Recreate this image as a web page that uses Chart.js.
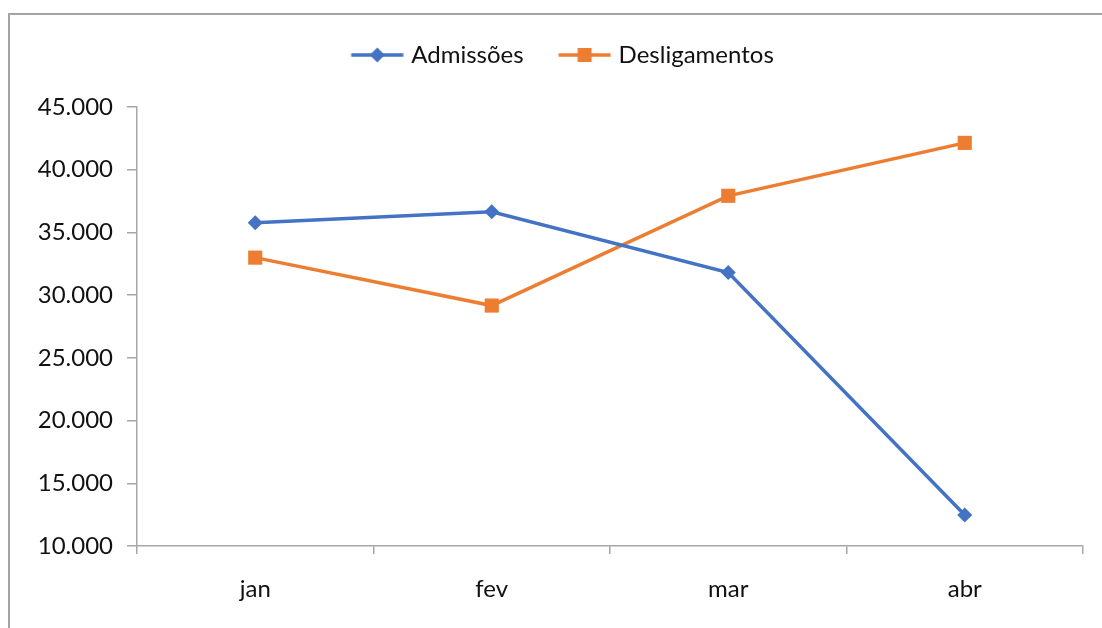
<!DOCTYPE html>
<html>
<head>
<meta charset="utf-8">
<script src="https://cdn.jsdelivr.net/npm/chart.js@4.4.0/dist/chart.umd.min.js"></script>
<style>
html, body { margin: 0; padding: 0; background: #fff; overflow: hidden; }
#frame { position: absolute; left: 8px; top: 13px; width: 1110px; height: 640px; border: 2px solid #a3a3a3; box-sizing: border-box; }
#wrap { position: absolute; left: 0; top: 0; width: 1102px; height: 628px; }
</style>
</head>
<body>
<div id="frame"></div>
<div id="wrap"><canvas id="chart" width="1102" height="628"></canvas></div>
<script>
// data
const months = ['jan', 'fev', 'mar', 'abr'];
const admissoes = [35780, 36650, 31800, 12470];
const desligamentos = [32990, 29170, 37920, 42140];
const y_min = 10000;
const y_max = 45000;
const y_step = 5000;

const blue = '#4472c4';
const orange = '#ed7d31';
const axis_grey = '#a6a6a6';
const text_color = '#111111';
const font = { family: 'Lato', size: 24 };

// pt-BR thousands: 45.000
function fmt(v) {
    return String(v).replace(/\B(?=(\d{3})+(?!\d))/g, '.');
}

// small legend image: line with the marker in the middle.
// the image is wider than the legend box so the line runs closer to the text
function legend_marker(color, shape) {
    const c = document.createElement('canvas');
    c.width = 57;
    c.height = 18;
    const ctx = c.getContext('2d');
    const x0 = 4.5;
    const mid = x0 + 26;
    ctx.strokeStyle = color;
    ctx.lineWidth = 3.5;
    ctx.beginPath();
    ctx.moveTo(x0, 9);
    ctx.lineTo(x0 + 52, 9);
    ctx.stroke();
    ctx.fillStyle = color;
    ctx.beginPath();
    if (shape === 'diamond') {
        ctx.moveTo(mid, 1.5);
        ctx.lineTo(mid + 7.5, 9);
        ctx.lineTo(mid, 16.5);
        ctx.lineTo(mid - 7.5, 9);
        ctx.closePath();
    } else {
        ctx.rect(mid - 7, 2, 14, 14);
    }
    ctx.fill();
    return c;
}
const markers = [legend_marker(blue, 'diamond'), legend_marker(orange, 'square')];

// legend: extra room under it, and nudged right like the original
const legend_tweak = {
    id: 'legend_tweak',
    afterInit(chart) {
        const lg = chart.legend;
        const orig_fit = lg.fit.bind(lg);
        lg.fit = function () {
            orig_fit();
            this.height += 30;
        };
    },
    afterLayout(chart) {
        chart.legend.left += 11;
        chart.legend.right += 11;
    }
};

const ctx = document.querySelector('#chart').getContext('2d');
const chartobj = new Chart(ctx, {
    type: 'line',
    plugins: [legend_tweak],
    data: {
        labels: months,
        datasets: [
            {
                label: 'Admissões',
                data: admissoes,
                borderColor: blue,
                backgroundColor: blue,
                borderWidth: 3.5,
                pointStyle: 'rectRot',
                pointRadius: 7.5,
                pointBorderWidth: 0,
                tension: 0
            },
            {
                label: 'Desligamentos',
                data: desligamentos,
                borderColor: orange,
                backgroundColor: orange,
                borderWidth: 3.5,
                pointStyle: 'rect',
                pointRadius: 10,
                pointBorderWidth: 0,
                tension: 0
            }
        ]
    },
    options: {
        responsive: false,
        animation: false,
        layout: { padding: { left: 20, right: 19, top: 8, bottom: 0 } },
        plugins: {
            legend: {
                position: 'top',
                labels: {
                    usePointStyle: true,
                    pointStyleWidth: 48,
                    padding: 35,
                    color: text_color,
                    font: font,
                    generateLabels: (chart) => {
                        const items = Chart.defaults.plugins.legend.labels.generateLabels(chart);
                        items.forEach((item, i) => { item.pointStyle = markers[i]; });
                        return items;
                    }
                }
            },
            tooltip: { enabled: false }
        },
        scales: {
            x: {
                offset: true,
                grid: {
                    display: true,
                    drawOnChartArea: false,
                    offset: true,
                    tickLength: 8,
                    color: axis_grey,
                    lineWidth: 1.5
                },
                border: { color: axis_grey, width: 1.5 },
                ticks: { padding: 21, color: text_color, font: font },
                afterFit: (s) => { s.height = 82; }
            },
            y: {
                min: y_min,
                max: y_max,
                grid: {
                    drawOnChartArea: false,
                    tickLength: 10,
                    color: axis_grey,
                    lineWidth: 1.5
                },
                border: { color: axis_grey, width: 1.5 },
                ticks: {
                    stepSize: y_step,
                    padding: 14,
                    color: text_color,
                    font: font,
                    callback: (v) => fmt(v)
                },
                afterFit: (s) => { s.width = 117; }
            }
        }
    }
});
</script>
</body>
</html>
